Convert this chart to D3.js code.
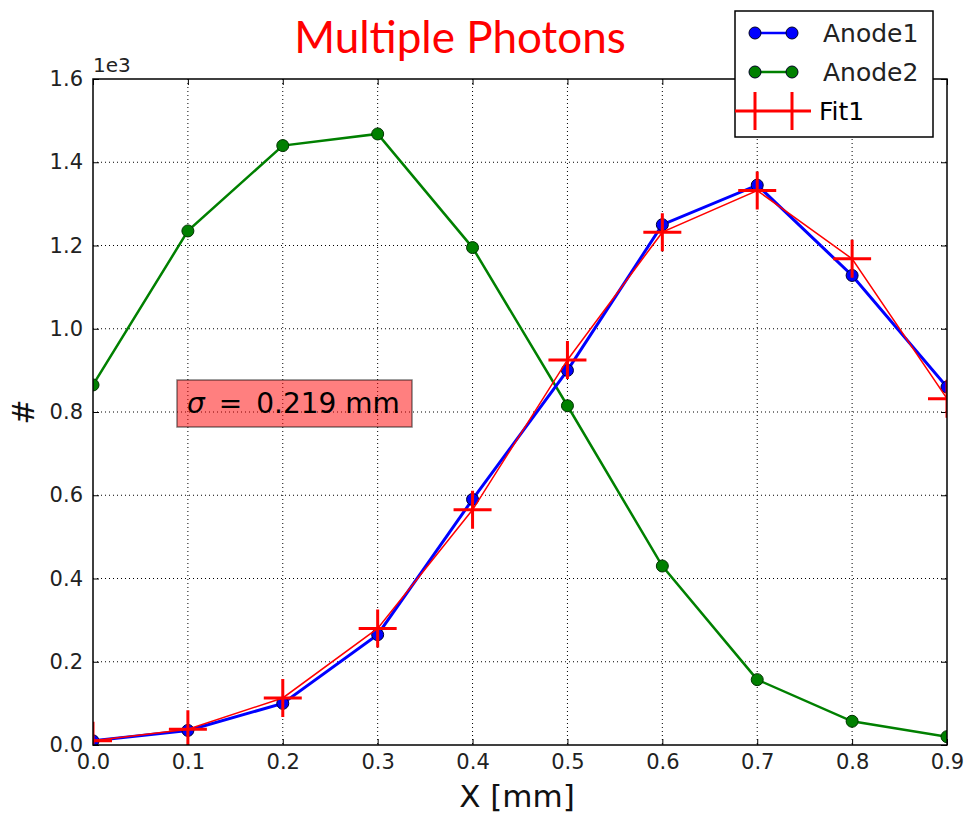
<!DOCTYPE html>
<html>
<head>
<meta charset="utf-8">
<script src="https://cdn.jsdelivr.net/npm/d3@7"></script>
<style>
  body { margin: 0; background: #fff; }
  text { font-family: "DejaVu Sans", sans-serif; }
</style>
</head>
<body>
<svg class="chart" width="965" height="813"></svg>
<script>
// values (y in units of 1e3)
var xValues = [0.0, 0.1, 0.2, 0.3, 0.4, 0.5, 0.6, 0.7, 0.8, 0.9];
var anode1 = [0.010, 0.035, 0.100, 0.265, 0.590, 0.900, 1.250, 1.345, 1.128, 0.860];
var anode2 = [0.865, 1.235, 1.440, 1.468, 1.195, 0.815, 0.430, 0.157, 0.057, 0.020];
var fit1 = [0.010, 0.038, 0.113, 0.280, 0.565, 0.925, 1.232, 1.332, 1.168, 0.832];
var xTicks = [0.0, 0.1, 0.2, 0.3, 0.4, 0.5, 0.6, 0.7, 0.8, 0.9];
var yTicks = [0.0, 0.2, 0.4, 0.6, 0.8, 1.0, 1.2, 1.4, 1.6];
var seriesNames = ["Anode1", "Anode2", "Fit1"];

var svg = d3.select('svg.chart');
var padding = {t: 79, r: 18, b: 68, l: 93};
var chartWidth = +svg.attr('width') - padding.l - padding.r;
var chartHeight = +svg.attr('height') - padding.t - padding.b;

var xScale = d3.scaleLinear().domain([0, 0.9]).range([0, chartWidth]);
var yScale = d3.scaleLinear().domain([0, 1.6]).range([chartHeight, 0]);

var chartG = svg.append('g')
    .attr('transform', 'translate(' + [padding.l, padding.t] + ')');

svg.append('defs').append('clipPath').attr('id', 'plotClip')
  .append('rect').attr('width', chartWidth).attr('height', chartHeight);

// grid
chartG.append('g').selectAll('line.gx')
    .data(xTicks.slice(1, -1)).enter().append('line')
    .attr('x1', d => xScale(d)).attr('x2', d => xScale(d))
    .attr('y1', 0).attr('y2', chartHeight)
    .attr('stroke', '#000').attr('stroke-width', 1).attr('stroke-dasharray', '1,3');
chartG.append('g').selectAll('line.gy')
    .data(yTicks.slice(1, -1)).enter().append('line')
    .attr('x1', 0).attr('x2', chartWidth)
    .attr('y1', d => yScale(d)).attr('y2', d => yScale(d))
    .attr('stroke', '#000').attr('stroke-width', 1).attr('stroke-dasharray', '1,3');

// axes with inward ticks on all four sides
var fmt = d3.format('.1f');
var xAxisG = chartG.append('g').attr('transform', 'translate(0,' + chartHeight + ')')
    .call(d3.axisBottom(xScale).tickValues(xTicks).tickFormat(fmt).tickSizeInner(-6).tickSizeOuter(0).tickPadding(9));
var xTopG = chartG.append('g')
    .call(d3.axisTop(xScale).tickValues(xTicks).tickFormat('').tickSizeInner(-6).tickSizeOuter(0));
var yAxisG = chartG.append('g')
    .call(d3.axisLeft(yScale).tickValues(yTicks).tickFormat(fmt).tickSizeInner(-6).tickSizeOuter(0).tickPadding(10));
var yRightG = chartG.append('g').attr('transform', 'translate(' + chartWidth + ',0)')
    .call(d3.axisRight(yScale).tickValues(yTicks).tickFormat('').tickSizeInner(-6).tickSizeOuter(0));
[xAxisG, xTopG, yAxisG, yRightG].forEach(function(g) {
  g.select('.domain').remove();
  g.selectAll('line').attr('stroke', '#000').attr('stroke-width', 1);
  g.selectAll('text').attr('font-size', 21).attr('fill', '#222')
    .style('font-family', '"DejaVu Sans", sans-serif');
});

// series
var seriesG = chartG.append('g').attr('clip-path', 'url(#plotClip)');
var line = d3.line().x((d, i) => xScale(xValues[i])).y(d => yScale(d));

function drawDots(values, color, edge, width) {
  seriesG.append('path').datum(values)
      .attr('d', line).attr('fill', 'none')
      .attr('stroke', color).attr('stroke-width', width);
  seriesG.append('g').selectAll('circle').data(values).enter().append('circle')
      .attr('cx', (d, i) => xScale(xValues[i])).attr('cy', d => yScale(d))
      .attr('r', 6).attr('fill', color).attr('stroke', edge).attr('stroke-width', 1);
}
drawDots(anode2, 'green', '#003300', 2.5);
drawDots(anode1, 'blue', '#000033', 3);

seriesG.append('path').datum(fit1)
    .attr('d', line).attr('fill', 'none')
    .attr('stroke', 'red').attr('stroke-width', 1.5);
var plusSize = 19;
seriesG.append('g').selectAll('path.plus').data(fit1).enter().append('path')
    .attr('d', function(d, i) {
      var cx = xScale(xValues[i]), cy = yScale(d);
      return 'M' + (cx - plusSize) + ',' + cy + 'H' + (cx + plusSize) +
             'M' + cx + ',' + (cy - plusSize) + 'V' + (cy + plusSize);
    })
    .attr('stroke', 'red').attr('stroke-width', 3).attr('fill', 'none');

// frame
chartG.append('rect').attr('width', chartWidth).attr('height', chartHeight)
    .attr('fill', 'none').attr('stroke', '#000').attr('stroke-width', 1.5);

// sigma annotation
var sigmaG = chartG.append('g').attr('transform', 'translate(' + (177 - padding.l) + ',' + (380 - padding.t) + ')');
sigmaG.append('rect').attr('width', 235).attr('height', 47)
    .attr('fill', 'rgba(255,0,0,0.5)').attr('stroke', 'rgba(0,0,0,0.5)').attr('stroke-width', 1.5);
var sigmaText = sigmaG.append('text').attr('x', 10).attr('y', 33)
    .attr('font-size', 28).attr('fill', '#000');
sigmaText.append('tspan').attr('font-style', 'italic').text('σ');
sigmaText.append('tspan').attr('dx', 14).text('=');
sigmaText.append('tspan').attr('dx', 14).text('0.219 mm');

// labels
svg.append('text').attr('x', padding.l).attr('y', 72)
    .attr('font-size', 20).attr('fill', '#222').text('1e3');
svg.append('text').attr('x', padding.l + chartWidth / 2 - 3).attr('y', 807)
    .attr('text-anchor', 'middle').attr('font-size', 31).attr('fill', '#111').text('X [mm]');
svg.append('text')
    .attr('transform', 'translate(34,' + (padding.t + chartHeight / 2) + ') rotate(-90)')
    .attr('text-anchor', 'middle').attr('font-size', 30).attr('fill', '#111').text('#');
svg.append('text').attr('x', 460).attr('y', 53)
    .attr('text-anchor', 'middle').attr('font-size', 44).attr('fill', 'red')
    .style('font-family', 'Lato, "Open Sans", sans-serif').text('Multiple Photons');

// legend
var legendG = svg.append('g').attr('transform', 'translate(735,11)');
legendG.append('rect').attr('width', 198).attr('height', 126)
    .attr('fill', '#fff').attr('stroke', '#000').attr('stroke-width', 1.5);
var legendColors = ['blue', 'green', 'red'];
seriesNames.forEach(function(name, i) {
  var y = 22 + i * 39;
  var item = legendG.append('g').attr('transform', 'translate(0,' + y + ')');
  if (i < 2) {
    item.append('line').attr('x1', 20).attr('x2', 57).attr('y1', 0).attr('y2', 0)
        .attr('stroke', legendColors[i]).attr('stroke-width', 2.5);
    [20, 57].forEach(function(cx) {
      item.append('circle').attr('cx', cx).attr('cy', 0).attr('r', 6)
          .attr('fill', legendColors[i]).attr('stroke', '#002').attr('stroke-width', 1);
    });
    item.append('text').attr('x', 88).attr('y', 9).attr('font-size', 25).attr('fill', '#222').text(name);
  } else {
    item.append('line').attr('x1', 0).attr('x2', 76).attr('y1', 0).attr('y2', 0)
        .attr('stroke', 'red').attr('stroke-width', 3);
    [20, 57].forEach(function(cx) {
      item.append('line').attr('x1', cx).attr('x2', cx).attr('y1', -19).attr('y2', 19)
          .attr('stroke', 'red').attr('stroke-width', 3);
    });
    item.append('text').attr('x', 84).attr('y', 9).attr('font-size', 25).attr('fill', '#000').text(name);
  }
});
</script>
</body>
</html>
